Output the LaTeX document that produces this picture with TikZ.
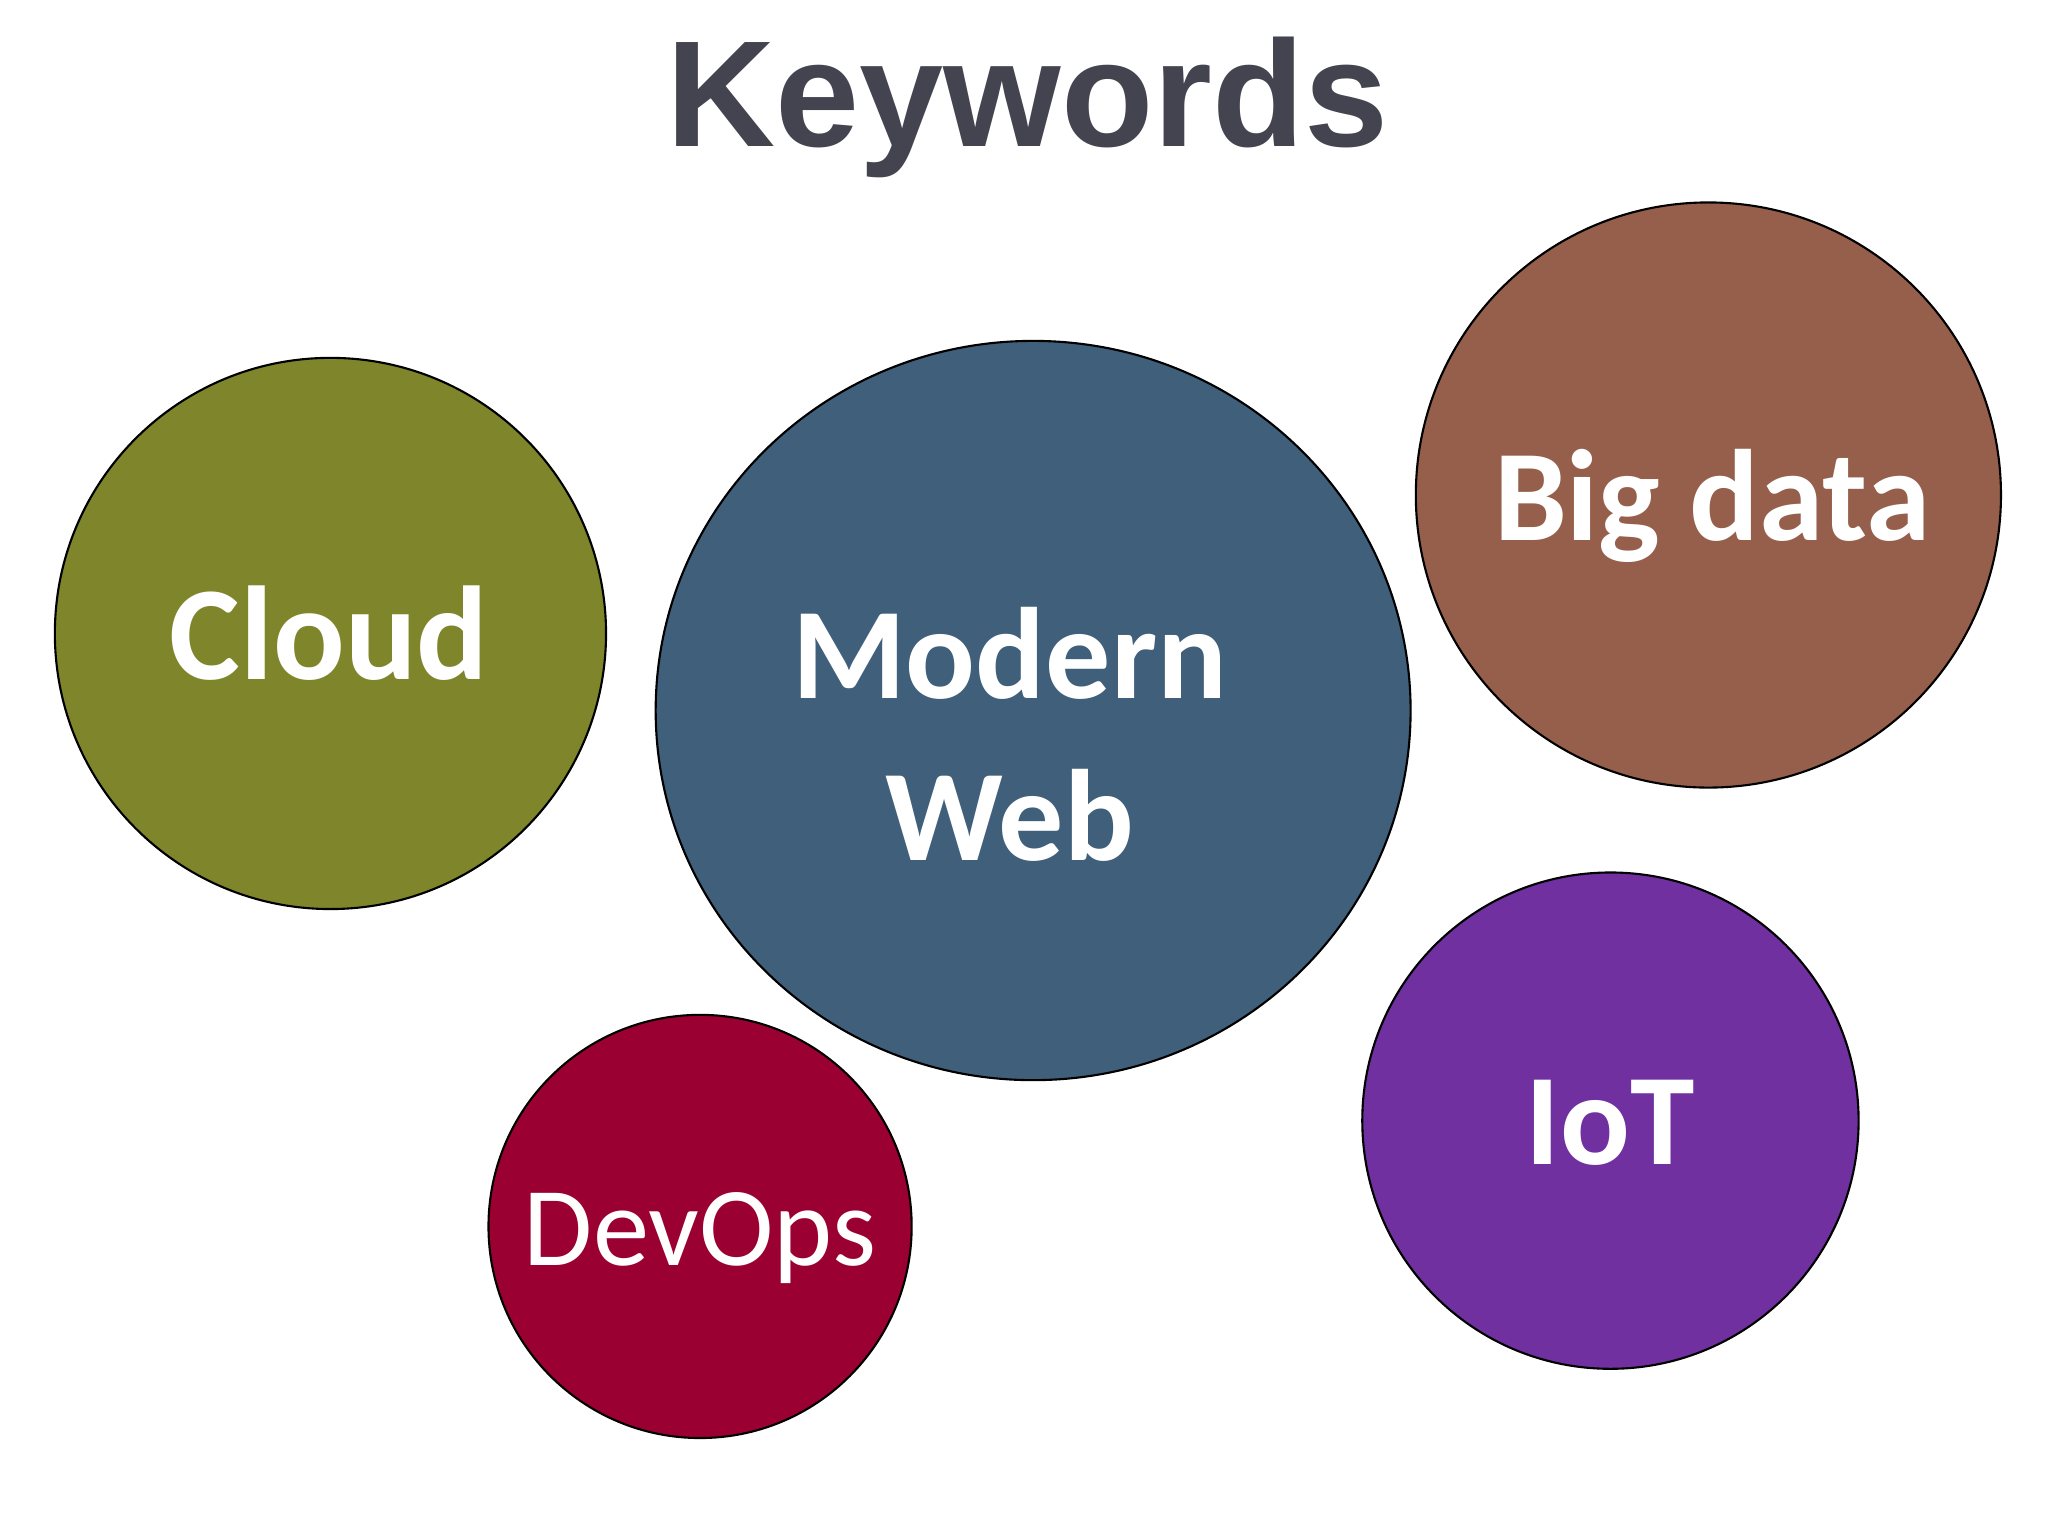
\documentclass[tikz,border=0pt]{standalone}
\usepackage{fontspec}
\setmainfont{Carlito}
\newfontfamily\titlefont{Liberation Sans}
\definecolor{cOlive}{HTML}{7F852A}
\definecolor{cBlue}{HTML}{3F5F7A}
\definecolor{cBrown}{HTML}{955F4B}
\definecolor{cPurple}{HTML}{7030A0}
\definecolor{cRed}{HTML}{9B0033}
\definecolor{cTitle}{HTML}{444450}
\tikzset{bub/.style={draw=black,line width=0.6pt},
lab/.style={text=white,align=center,font=\fontsize{38}{44}\selectfont\bfseries}}
\begin{document}
\begin{tikzpicture}[x=0.013061cm,y=-0.013061cm]
\useasboundingbox (0,0) rectangle (1568,1176);
\node[text=cTitle,font=\titlefont\fontsize{43}{50}\selectfont\bfseries] (title) at (787,82) {Keywords};
\filldraw[bub,fill=cOlive] (253,485) ellipse (211 and 211);
\filldraw[bub,fill=cBlue] (791,544) ellipse (289 and 283);
\filldraw[bub,fill=cBrown] (1308,379) ellipse (224 and 224);
\filldraw[bub,fill=cPurple] (1233,858) ellipse (190 and 190);
\filldraw[bub,fill=cRed] (536,939) ellipse (162 and 162);
\node[lab] (cloud) at (252,485) {Cloud};
\node[lab,font=\fontsize{37}{46}\selectfont\bfseries] (web) at (773,562) {Modern\\Web};
\node[lab,font=\fontsize{37}{44}\selectfont\bfseries] (big) at (1311,387) {Big data};
\node[lab,font=\fontsize{37}{44}\selectfont\bfseries] (iot) at (1233,860) {IoT};
\node[text=white,font=\fontsize{32}{38}\selectfont] (devops) at (536,948) {DevOps};
\end{tikzpicture}
\end{document}
